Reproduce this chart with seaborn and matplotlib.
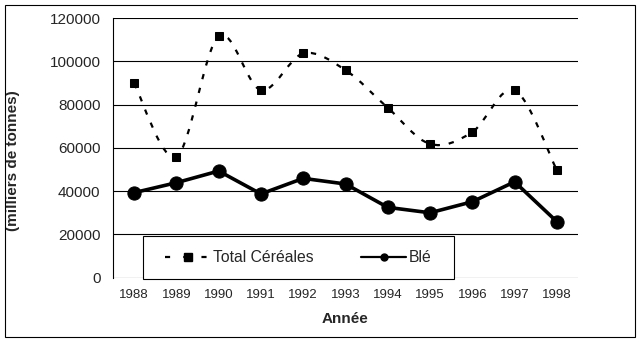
import numpy as np
import pandas as pd
import seaborn as sns
import matplotlib.pyplot as plt
from matplotlib.path import Path
from matplotlib.patches import PathPatch, Rectangle
from matplotlib.lines import Line2D

# Production data (thousand tonnes)
years = ["1988", "1989", "1990", "1991", "1992", "1993", "1994", "1995", "1996", "1997", "1998"]
total_cereales = [89800, 55900, 111600, 86700, 103600, 95900, 78500, 61800, 67300, 86700, 49700]
ble = [39300, 43900, 49300, 38700, 45900, 43300, 32500, 30000, 35100, 44300, 25900]
yticks = [0, 20000, 40000, 60000, 80000, 100000, 120000]

sns.set_style("white")
plt.rcParams["font.family"] = ["Liberation Sans", "DejaVu Sans"]

df = pd.DataFrame({"idx": np.arange(len(years)), "Total Céréales": total_cereales, "Blé": ble})

W, H = 642, 343
fig = plt.figure(figsize=(W / 100, H / 100), dpi=100)
ax_l, ax_r, ax_t, ax_b = 113, 578, 18, 277.7
ax = fig.add_axes([ax_l / W, 1 - ax_b / H, (ax_r - ax_l) / W, (ax_b - ax_t) / H])
aw, ah = ax_r - ax_l, ax_b - ax_t

# Smoothed dashed curve through the totals (Catmull-Rom segments as cubic Béziers)
x = df["idx"].to_numpy(float)
y = df["Total Céréales"].to_numpy(float)
pts = np.column_stack([x, y])
ext = np.vstack([pts[0], pts, pts[-1]])
verts = [tuple(pts[0])]
codes = [Path.MOVETO]
for i in range(1, len(ext) - 2):
    p0, p1, p2, p3 = ext[i - 1], ext[i], ext[i + 1], ext[i + 2]
    c1 = p1 + (p2 - p0) / 6.0
    c2 = p2 - (p3 - p1) / 6.0
    verts += [tuple(c1), tuple(c2), tuple(p2)]
    codes += [Path.CURVE4] * 3
ax.add_patch(PathPatch(Path(verts, codes), fill=False, edgecolor="black",
                       linewidth=1.6, linestyle=(0, (2.4, 4.0)), capstyle="butt", zorder=3))

sns.lineplot(data=df, x="idx", y="Total Céréales", ax=ax, linestyle="",
             marker="s", markersize=5.6, color="black", markeredgecolor="black", zorder=4)
sns.lineplot(data=df, x="idx", y="Blé", ax=ax, color="black", linewidth=2.6,
             marker="o", markersize=9.5, markeredgecolor="black", zorder=5)

ax.set_xlim(-0.5, len(years) - 0.5)
ax.set_ylim(0, 120000)
ax.set_xticks(range(len(years)))
ax.set_xticklabels(years, fontsize=9.5)
ax.set_yticks(yticks)
ax.set_yticklabels([str(v) for v in yticks], fontsize=11)
ax.tick_params(axis="x", length=0, pad=8)
ax.tick_params(axis="y", length=0, pad=9)
ax.grid(axis="y", color="black", linewidth=0.8)
ax.set_axisbelow(True)
for s in ["top", "right", "bottom"]:
    ax.spines[s].set_visible(False)
ax.spines["left"].set_color("black")
ax.spines["left"].set_linewidth(0.8)

ax.set_xlabel("Année", fontsize=11, fontweight="bold", labelpad=8)
ax.set_ylabel("(milliers de tonnes)", fontsize=11, fontweight="bold")
ax.yaxis.set_label_coords((20 - ax_l) / aw, (ax_b - 161) / ah)

# Legend box
bx0, bx1, by0, by1 = 143, 454, 236, 279
ax.add_patch(Rectangle(((bx0 - ax_l) / aw, (ax_b - by1) / ah), (bx1 - bx0) / aw, (by1 - by0) / ah,
                       transform=ax.transAxes, facecolor="white", edgecolor="black",
                       linewidth=0.8, clip_on=False, zorder=9))
handles = [
    Line2D([], [], color="black", linewidth=1.6, linestyle=(0, (2.3, 5.9)),
           marker="s", markersize=5.6),
    Line2D([], [], color="black", linewidth=1.6, marker="o", markersize=5),
]
leg = ax.legend(handles, ["Total Céréales", "Blé"], ncol=2, fontsize=11.3,
                loc="center", bbox_to_anchor=(((bx0 + bx1) / 2 - ax_l) / aw, (ax_b - (by0 + by1) / 2) / ah),
                borderaxespad=0, frameon=False, handlelength=2.9, handletextpad=0.15,
                columnspacing=3.0, borderpad=0)
leg.set_zorder(10)

fig.patches.append(Rectangle((5 / W, 1 - 337 / H), 630 / W, 332 / H,
                             transform=fig.transFigure, fill=False,
                             edgecolor="black", linewidth=0.8))

fig.savefig("out.png", dpi=100)
